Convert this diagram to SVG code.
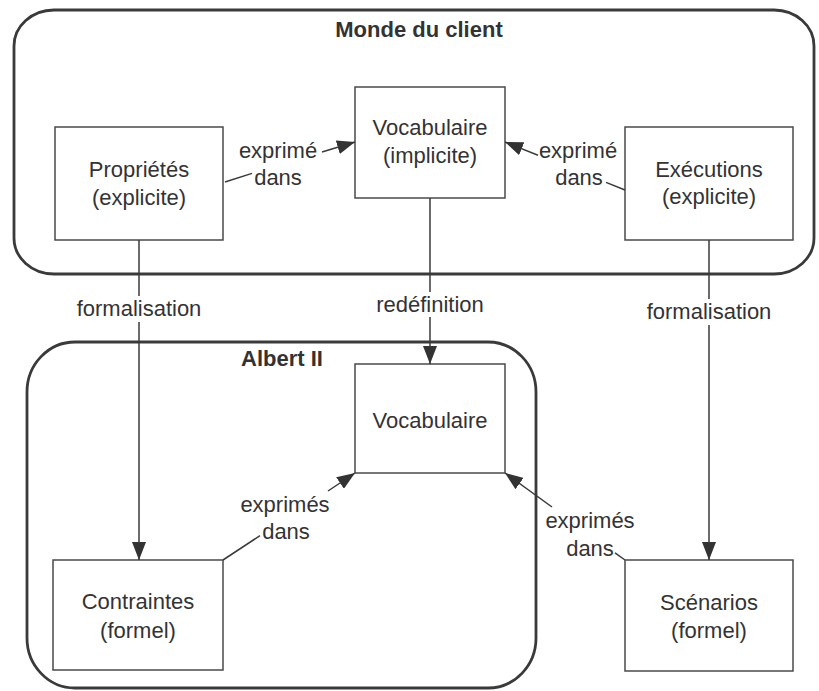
<svg xmlns="http://www.w3.org/2000/svg" width="819" height="691" viewBox="0 0 819 691">
  <style>
    text { font-family: "Liberation Sans", Arial, sans-serif; font-size: 22px; fill: #333; text-anchor: middle; }
    .title { font-weight: bold; }
    .frame { fill: none; stroke: #3a3a3a; stroke-width: 2.8; }
    .box { fill: #fff; stroke: #4a4a4a; stroke-width: 1.5; }
    .edge { fill: none; stroke: #3a3a3a; stroke-width: 1.5; }
  </style>
  <defs>
    <marker id="arrow" viewBox="0 0 18 14" refX="18" refY="7" markerWidth="18" markerHeight="14" markerUnits="userSpaceOnUse" orient="auto">
      <path d="M0,0 L18,7 L0,14 z" fill="#333"/>
    </marker>
  </defs>
  <rect width="819" height="691" fill="#fff"/>

  <!-- containers -->
  <g id="monde-du-client">
    <rect class="frame" x="14" y="10" width="800" height="264" rx="40" ry="36"/>
    <text class="title" x="419" y="37">Monde du client</text>
  </g>
  <g id="albert-ii">
    <rect class="frame" x="27" y="342" width="509" height="346" rx="48" ry="50"/>
    <text class="title" x="282" y="366">Albert II</text>
  </g>

  <!-- nodes -->
  <g id="proprietes">
    <rect class="box" x="55" y="127" width="168" height="113"/>
    <text x="139" y="177">Propriétés</text>
    <text x="139" y="205">(explicite)</text>
  </g>
  <g id="vocabulaire-implicite">
    <rect class="box" x="355" y="87" width="150" height="111"/>
    <text x="430" y="135">Vocabulaire</text>
    <text x="430" y="163">(implicite)</text>
  </g>
  <g id="executions">
    <rect class="box" x="625" y="127" width="168" height="113"/>
    <text x="709" y="177">Exécutions</text>
    <text x="709" y="204">(explicite)</text>
  </g>
  <g id="vocabulaire">
    <rect class="box" x="355" y="364" width="150" height="109"/>
    <text x="430" y="428">Vocabulaire</text>
  </g>
  <g id="contraintes">
    <rect class="box" x="53" y="560" width="170" height="110"/>
    <text x="138" y="609">Contraintes</text>
    <text x="138" y="638">(formel)</text>
  </g>
  <g id="scenarios">
    <rect class="box" x="625" y="560" width="168" height="111"/>
    <text x="709" y="610">Scénarios</text>
    <text x="709" y="638">(formel)</text>
  </g>

  <!-- connectors -->
  <g id="connectors">
    <line class="edge" x1="225" y1="182" x2="252" y2="173.4"/>
    <line class="edge" x1="322" y1="152" x2="355" y2="142" marker-end="url(#arrow)"/>
    <text x="278" y="158">exprimé</text>
    <text x="278" y="185">dans</text>

    <line class="edge" x1="625" y1="190" x2="606" y2="182.4"/>
    <line class="edge" x1="538" y1="155.2" x2="505" y2="142" marker-end="url(#arrow)"/>
    <text x="578" y="158">exprimé</text>
    <text x="579" y="185">dans</text>

    <line class="edge" x1="139" y1="240" x2="139" y2="296"/>
    <line class="edge" x1="139" y1="322" x2="139" y2="560" marker-end="url(#arrow)"/>
    <text x="139" y="316">formalisation</text>

    <line class="edge" x1="430" y1="198" x2="430" y2="292"/>
    <line class="edge" x1="430" y1="317" x2="430" y2="364" marker-end="url(#arrow)"/>
    <text x="430" y="312">redéfinition</text>

    <line class="edge" x1="709" y1="240" x2="709" y2="299"/>
    <line class="edge" x1="709" y1="325" x2="709" y2="560" marker-end="url(#arrow)"/>
    <text x="709" y="319">formalisation</text>

    <line class="edge" x1="223" y1="560" x2="260" y2="535.6"/>
    <line class="edge" x1="328" y1="491" x2="355" y2="473" marker-end="url(#arrow)"/>
    <text x="285" y="512">exprimés</text>
    <text x="286" y="539">dans</text>

    <line class="edge" x1="625" y1="560" x2="615" y2="552.8"/>
    <line class="edge" x1="552" y1="507" x2="505" y2="473" marker-end="url(#arrow)"/>
    <text x="590" y="528">exprimés</text>
    <text x="590" y="556">dans</text>
  </g>
</svg>
